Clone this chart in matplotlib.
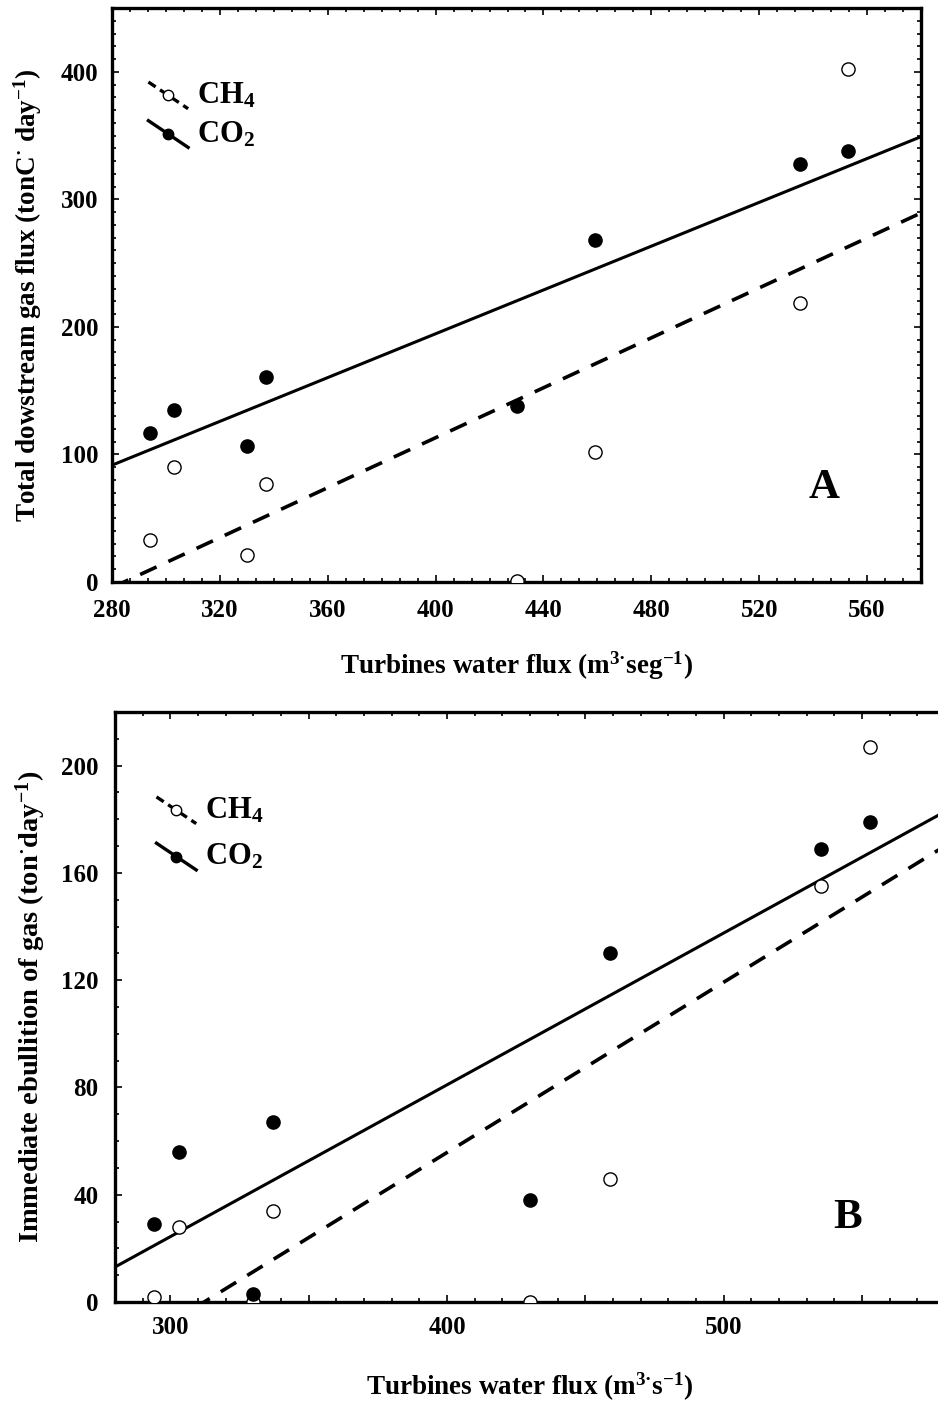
import numpy as np
import matplotlib
matplotlib.use("Agg")
import matplotlib.pyplot as plt
from matplotlib.lines import Line2D
from matplotlib.legend_handler import HandlerBase
from matplotlib.ticker import MultipleLocator, FixedLocator

# ---------------- data ----------------
flow = [294, 303, 330, 337, 430, 459, 535, 553]          # turbines water flux
a_co2 = [117, 135, 107, 161, 138, 268, 328, 338]         # panel A, CO2
a_ch4 = [33, 90, 21, 77, 1, 102, 219, 402]               # panel A, CH4
b_co2 = [29, 56, 3, 67, 38, 130, 169, 179]               # panel B, CO2
b_ch4 = [2, 28, 0, 34, 0, 46, 155, 207]                  # panel B, CH4

a_xticks = [280, 320, 360, 400, 440, 480, 520, 560]
a_yticks = [0, 100, 200, 300, 400]
b_xticks = [300, 400, 500]
b_yticks = [0, 40, 80, 120, 160, 200]

plt.rcParams['font.family'] = ['Liberation Serif', 'DejaVu Serif']
plt.rcParams['font.weight'] = 'bold'
plt.rcParams['mathtext.fontset'] = 'custom'
plt.rcParams['mathtext.rm'] = 'Liberation Serif:bold'
plt.rcParams['mathtext.bf'] = 'Liberation Serif:bold'
plt.rcParams['mathtext.it'] = 'Liberation Serif:bold'

DASH = (5.0, 3.6)
TICK_FS = 18
LABEL_FS = 19.5
MS = 9.5


class DiagHandler(HandlerBase):
    def create_artists(self, legend, orig_handle, xdescent, ydescent,
                       width, height, fontsize, trans):
        x0, x1 = -xdescent, -xdescent + width
        y0, y1 = -ydescent + height * 1.0, -ydescent - height * 0.25
        ln = Line2D([x0, x1], [y0, y1])
        ln.update_from(orig_handle)
        ln.set_marker('None')
        ln.set_transform(trans)
        mk = Line2D([(x0 + x1) / 2], [(y0 + y1) / 2])
        mk.update_from(orig_handle)
        mk.set_linestyle('None')
        mk.set_transform(trans)
        return [ln, mk]


def style_axes(ax):
    for s in ax.spines.values():
        s.set_linewidth(2.4)
    ax.tick_params(which='both', direction='in', top=True, right=True,
                   width=1.2, labelsize=TICK_FS)
    ax.tick_params(which='major', length=5)
    ax.tick_params(which='minor', length=3)


def draw(ax, co2, ch4):
    xs = np.array(flow, float)
    xx = np.array([280, 580], float)
    p_co2 = np.polyfit(xs, co2, 1)
    p_ch4 = np.polyfit(xs, ch4, 1)
    ax.plot(xx, np.polyval(p_co2, xx), color='k', lw=2.2, zorder=2)
    ax.plot(xx, np.polyval(p_ch4, xx), color='k', lw=2.6, ls='--',
            dashes=DASH, zorder=2)
    ax.plot(xs, ch4, ls='none', marker='o', ms=MS, mfc='white', mec='k',
            mew=1.0, zorder=3)
    ax.plot(xs, co2, ls='none', marker='o', ms=MS, mfc='k', mec='k',
            zorder=4)
    h_ch4 = Line2D([], [], color='k', lw=2.4, ls='--', dashes=(2.6, 1.6),
                   marker='o', ms=7.5, mfc='white', mec='k', mew=1.0)
    h_co2 = Line2D([], [], color='k', lw=2.4, ls='-', marker='o', ms=7.5,
                   mfc='k', mec='k')
    return h_ch4, h_co2


fig = plt.figure(figsize=(9.38, 14.02), dpi=100)

# ---------------- panel A ----------------
axA = fig.add_axes([112 / 938, 1 - 582 / 1402, 809 / 938, 574 / 1402])
style_axes(axA)
h1, h2 = draw(axA, a_co2, a_ch4)
axA.set_xlim(280, 580)
axA.set_ylim(0, 450)
axA.xaxis.set_major_locator(FixedLocator(a_xticks))
axA.xaxis.set_minor_locator(MultipleLocator(40 / 6))
axA.yaxis.set_major_locator(FixedLocator(a_yticks))
axA.yaxis.set_minor_locator(MultipleLocator(10))
axA.tick_params(axis='x', pad=12)
axA.tick_params(axis='y', pad=10)
axA.set_xlabel('Turbines water flux (m$^{\\mathregular{3\u00b7}}$seg$^{\\mathregular{-1}}$)',
               fontsize=LABEL_FS, fontweight='bold', labelpad=20)
axA.set_ylabel('Total dowstream gas flux (tonC$^{\\mathregular{\u00b7}}$ day$^{\\mathregular{-1}}$)',
               fontsize=LABEL_FS, fontweight='bold', labelpad=12)
axA.text(0.880, 0.164, 'A', transform=axA.transAxes, fontsize=31,
         fontweight='bold', ha='center', va='center')
axA.legend([h1, h2], ['CH$_\\mathregular{4}$', 'CO$_\\mathregular{2}$'],
           handler_map={Line2D: DiagHandler()},
           loc='upper left', bbox_to_anchor=(0.045, 0.873),
           frameon=False, fontsize=22, handlelength=1.3,
           handletextpad=0.3, labelspacing=0.3, borderpad=0,
           borderaxespad=0)

# ---------------- panel B ----------------
axB = fig.add_axes([115 / 938, 1 - 1302 / 1402, 830 / 938, 590 / 1402])
style_axes(axB)
h1, h2 = draw(axB, b_co2, b_ch4)
axB.set_xlim(280, 580)
axB.set_ylim(0, 220)
axB.xaxis.set_major_locator(MultipleLocator(50))
axB.xaxis.set_major_formatter(plt.FuncFormatter(
    lambda v, p: f'{int(round(v))}' if int(round(v)) in b_xticks else ''))
axB.xaxis.set_minor_locator(MultipleLocator(10))
axB.yaxis.set_major_locator(FixedLocator(b_yticks))
axB.yaxis.set_minor_locator(MultipleLocator(10))
axB.tick_params(axis='x', pad=10)
axB.tick_params(axis='y', pad=12)
axB.set_xlabel('Turbines water flux (m$^{\\mathregular{3\u00b7}}$s$^{\\mathregular{-1}}$)',
               fontsize=LABEL_FS, fontweight='bold', labelpad=23)
axB.set_ylabel('Immediate ebullition of gas (ton$^{\\mathregular{\u00b7}}$day$^{\\mathregular{-1}}$)',
               fontsize=20.5, fontweight='bold', labelpad=9)
axB.text(0.883, 0.142, 'B', transform=axB.transAxes, fontsize=31,
         fontweight='bold', ha='center', va='center')
axB.legend([h1, h2], ['CH$_\\mathregular{4}$', 'CO$_\\mathregular{2}$'],
           handler_map={Line2D: DiagHandler()},
           loc='upper left', bbox_to_anchor=(0.05, 0.858),
           frameon=False, fontsize=22, handlelength=1.3,
           handletextpad=0.3, labelspacing=0.55, borderpad=0,
           borderaxespad=0)

fig.savefig('out.png', dpi=100)
